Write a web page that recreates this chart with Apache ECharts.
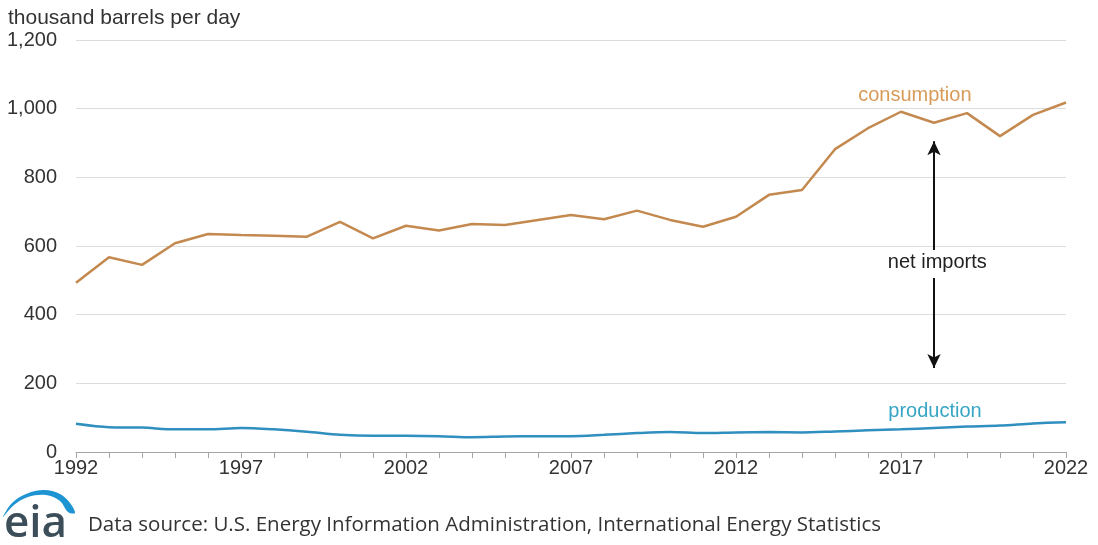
<!DOCTYPE html>
<html>
<head>
<meta charset="utf-8">
<script src="https://cdn.jsdelivr.net/npm/echarts@6/dist/echarts.min.js"></script>
<style>
html,body{margin:0;padding:0;background:#fff;}
#chart{width:1098px;height:545px;}
</style>
</head>
<body>
<div id="chart"></div>
<script>
const years = [1992,1993,1994,1995,1996,1997,1998,1999,2000,2001,2002,2003,2004,2005,2006,2007,2008,2009,2010,2011,2012,2013,2014,2015,2016,2017,2018,2019,2020,2021,2022];
const consumption = [493,567,545,608,635,632,630,627,670,622,659,645,664,661,676,690,678,703,676,656,685,749,763,882,943,991,959,987,920,982,1018];
const production = [82,72,71,66,66,70,66,59,50,47,47,46,43,45,46,46,50,55,58,55,57,58,57,60,63,66,70,74,77,83,87];
const yTicks = [0,200,400,600,800,1000,1200];
const labelYears = [1992,1997,2002,2007,2012,2017,2022];

const chart = echarts.init(document.getElementById('chart'));
const font = 'Liberation Sans, Arial, sans-serif';
chart.setOption({
  animation:false,
  backgroundColor:'#fff',
  grid:{left:76,right:32,top:40,bottom:93,containLabel:false},
  title:{text:'thousand barrels per day',left:3,top:3,textStyle:{fontFamily:font,fontSize:21,fontWeight:'normal',color:'#333'}},
  xAxis:{type:'value',min:years[0],max:years[years.length-1],interval:1,
    axisLine:{show:true,lineStyle:{color:'#a6a6a6',width:1}},
    axisTick:{show:true,length:6,lineStyle:{color:'#a6a6a6'}},
    splitLine:{show:false},
    axisLabel:{fontFamily:font,fontSize:20,color:'#333',margin:6,
      formatter:v=>labelYears.indexOf(v)>=0?String(v):''}
  },
  yAxis:{type:'value',min:yTicks[0],max:yTicks[yTicks.length-1],interval:200,
    axisLine:{show:false},axisTick:{show:false},
    splitLine:{lineStyle:{color:'#dcdcdc',width:1}},
    axisLabel:{fontFamily:font,fontSize:20,color:'#333',margin:19,
      formatter:v=>v.toLocaleString('en-US')}
  },
  series:[
    {name:'consumption',type:'line',showSymbol:false,
      data:years.map((y,i)=>[y,consumption[i]]),
      lineStyle:{color:'#c4894f',width:2.5},itemStyle:{color:'#c4894f'},
      markPoint:{symbol:'circle',symbolSize:0,silent:true,
        label:{show:true,position:'inside',fontFamily:font,fontSize:20,color:'#d89a58',formatter:'consumption'},
        data:[{coord:[2017.42,1037]}]},
      markLine:{silent:true,symbol:['none','arrow'],symbolSize:[10,14],
        lineStyle:{color:'#111',width:2,type:'solid'},label:{show:false},
        data:[[{coord:[2018,588]},{coord:[2018,905]}],[{coord:[2018,507]},{coord:[2018,245]}]]}
    },
    {name:'production',type:'line',showSymbol:false,smooth:0.3,
      data:years.map((y,i)=>[y,production[i]]),
      lineStyle:{color:'#2f8fbf',width:2.5},itemStyle:{color:'#2f8fbf'},
      markPoint:{symbol:'circle',symbolSize:0,silent:true,
        label:{show:true,position:'inside',fontFamily:font,fontSize:20,color:'#36a6c4',formatter:'production'},
        data:[{coord:[2018.03,119]},{coord:[2018.1,553],label:{color:'#222',formatter:'net imports'}}]}
    }
  ],
  graphic:[
    {type:'text',x:4,y:524,style:{text:'eia',fontFamily:'Open Sans, sans-serif',fontSize:44,fontWeight:600,fill:'#3d4e5b',verticalAlign:'middle'}},
    {type:'polygon',shape:{points:[[3,517],[12,503],[26,494],[44,490],[60,494],[70,503],[75,513],[68,512],[60,501],[46,495],[28,497],[14,505]],smooth:0.35},style:{fill:'#1f94d2'}},
    {type:'text',left:88,top:515,style:{text:'Data source: U.S. Energy Information Administration, International Energy Statistics',fontFamily:'Open Sans, sans-serif',fontSize:20.5,fill:'#333'}}
  ]
});
</script>
</body>
</html>
